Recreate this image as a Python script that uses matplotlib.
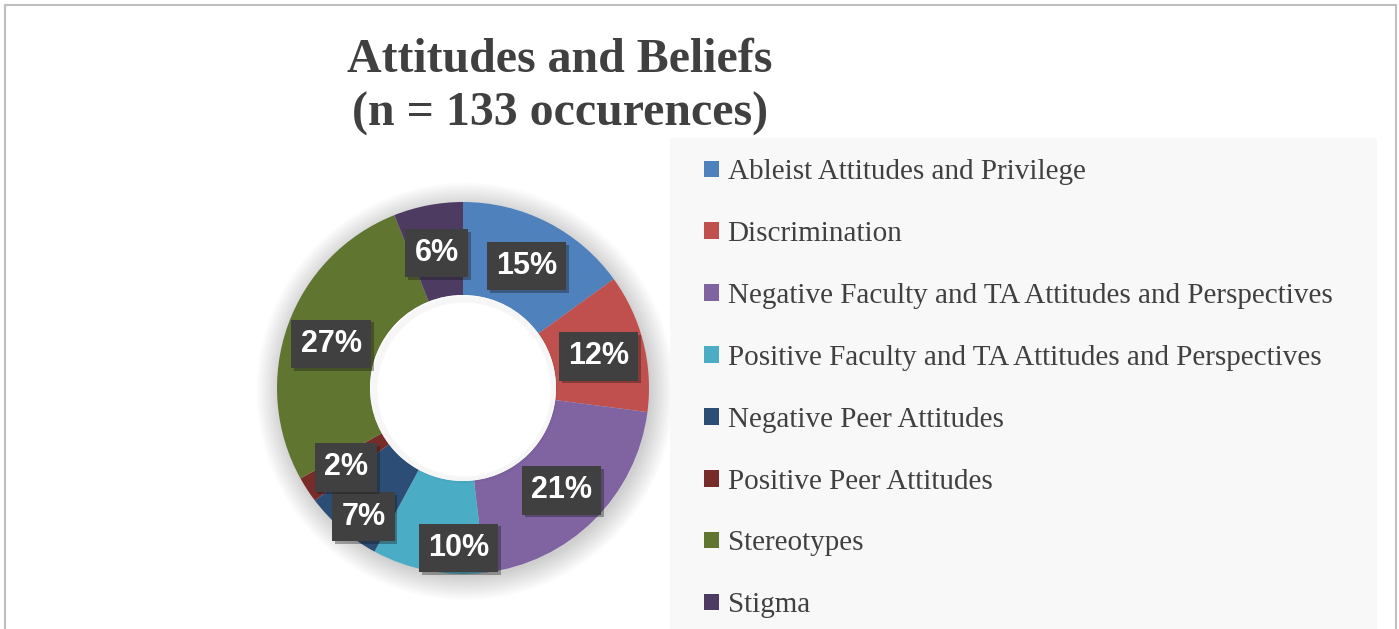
import matplotlib
matplotlib.use('Agg')
import matplotlib.pyplot as plt
import matplotlib.patheffects as pe
from matplotlib.patches import Rectangle, Circle, Wedge

# data (counts out of n = 133)
categories = ['Ableist Attitudes and Privilege', 'Discrimination',
              'Negative Faculty and TA Attitudes and Perspectives',
              'Positive Faculty and TA Attitudes and Perspectives',
              'Negative Peer Attitudes', 'Positive Peer Attitudes',
              'Stereotypes', 'Stigma']
counts = [20, 16, 28, 13, 9, 3, 36, 8]
colors = ['#4F81BD', '#C0504D', '#8064A2', '#4BACC6',
          '#2C4D75', '#772C2A', '#5F7530', '#4D3B62']

W, H = 1399, 629
fig = plt.figure(figsize=(W / 100, H / 100), dpi=100)
fig.patch.set_facecolor('white')

# outer frame and legend background
fig.patches.append(Rectangle((5 / W, -0.05), 1391 / W, 1.05 - 5 / H, transform=fig.transFigure,
                             facecolor='none', edgecolor='#BFBFBF', linewidth=1.5))
fig.patches.append(Rectangle((670 / W, -0.05), 707 / W, 0.05 + (H - 138) / H, transform=fig.transFigure,
                             facecolor='#F8F8F8', edgecolor='none'))

# donut axes: radius 1 == 186 px, centre at (463, 388)
R = 186
lim = 1.3
cx, cy = 463, 388
ax = fig.add_axes([(cx - lim * R) / W, (H - cy - lim * R) / H, 2 * lim * R / W, 2 * lim * R / H])

# soft shadow round the ring (outside only)
for k in range(12):
    ax.add_patch(Wedge((0.012, -0.018), 1.0 + 0.011 * k, 0, 360, width=0.5 + 0.011 * k,
                       facecolor='black', alpha=0.016, edgecolor='none', zorder=0))

wedges, _, autotexts = ax.pie(counts, colors=colors, startangle=90, counterclock=False,
                              radius=1.0, wedgeprops=dict(width=0.5, edgecolor='none'),
                              autopct='%1.0f%%', pctdistance=0.753,
                              textprops=dict(color='white', fontsize=22, fontweight='bold',
                                             family='Liberation Sans'))
ax.set_xlim(-lim, lim)
ax.set_ylim(-lim, lim)
ax.axis('off')

# white hole with a faint inner shade at its rim
ax.add_patch(Circle((0, 0), 0.5, facecolor='white', edgecolor='none', zorder=2))
for k in range(6):
    ax.add_patch(Circle((0.006, -0.008), 0.5 - 0.006 * k, facecolor='none', edgecolor='black',
                        linewidth=1.2, alpha=0.025, zorder=3))

# nudge crowded labels
nudges = {3: (0.118, -0.105), 4: (-0.045, -0.105)}
for i, t in enumerate(autotexts):
    x, y = t.get_position()
    dx, dy = nudges.get(i, (0, 0))
    t.set_position((x + dx, y + dy - 0.015))
    t.set_zorder(6)
    t.set_bbox(dict(boxstyle='square,pad=0.3', facecolor='#404040', edgecolor='none'))
    t.get_bbox_patch().set_path_effects([pe.withSimplePatchShadow(offset=(2, -2), alpha=0.35),
                                         pe.Normal()])

# title
fig.text(560 / W, 1 - 87 / H, 'Attitudes and Beliefs\n(n = 133 occurences)', ha='center', va='center',
         fontsize=34.5, fontweight='bold', family='Liberation Serif', color='#404040', linespacing=1.29)

# legend
fig.legend(wedges, categories, loc='upper left', bbox_to_anchor=(678 / W, 1 - 133 / H),
           frameon=False, prop=dict(family='Liberation Serif', size=21),
           handlelength=0.5, handleheight=0.5, handletextpad=0.3, labelspacing=1.23,
           labelcolor='#404040')

fig.savefig('out.png', dpi=100)
